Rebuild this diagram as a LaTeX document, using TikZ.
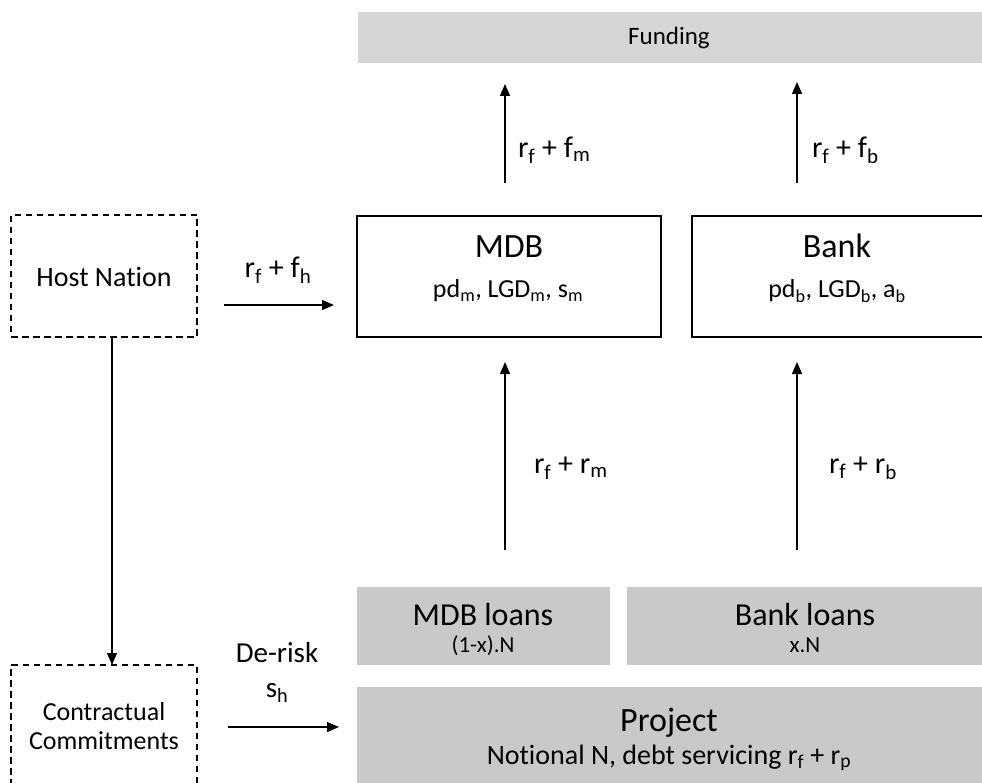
\documentclass[tikz,border=0pt]{standalone}
\usepackage{fontspec}
\setmainfont{Carlito}[Ligatures=CommonOff]
\usetikzlibrary{arrows.meta,calc}

\definecolor{fundgray}{RGB}{214,214,214}
\definecolor{loangray}{RGB}{201,201,201}

\newcommand{\sbs}[1]{\textsubscript{#1}}
\newcommand{\fsz}[1]{\fontsize{#1}{#1}\selectfont}

\begin{document}
\begin{tikzpicture}[x=1pt,y=-1pt,
  every node/.style={inner sep=0pt,outer sep=0pt},
  framebox/.style={draw=black,line width=1.4pt,fill=white,anchor=north west},
  dashbox/.style={draw=black,line width=1.2pt,dash pattern=on 6.5pt off 4.5pt,anchor=north west},
  fundbox/.style={fill=fundgray,anchor=north west},
  loanbox/.style={fill=loangray,anchor=north west},
  arr/.style={line width=1.3pt,-{Triangle[length=12pt,width=10pt]}},
  titletext/.style={anchor=base,font=\fsz{34}},
  subtext/.style={anchor=base,font=\fsz{26}},
  flowlabel/.style={anchor=west,font=\fsz{30}},
]
\useasboundingbox (0,0) rectangle (982,783);

% --- boxes ---
\node[fundbox,minimum width=630pt,minimum height=51pt] (fund) at (358,12) {};
\node[font=\fsz{25}] (fundT) at (669,38) {Funding};

\node[framebox,minimum width=304pt,minimum height=121pt] (mdb) at (357,216) {};
\node[titletext] (mdbT) at (509,258) {MDB};
\node[subtext] (mdbS) at (508,298) {pd\sbs{m}, LGD\sbs{m}, s\sbs{m}};

\node[framebox,minimum width=300pt,minimum height=121pt] (bank) at (692,216) {};
\node[titletext] (bankT) at (837,258) {Bank};
\node[subtext] (bankS) at (837,298) {pd\sbs{b}, LGD\sbs{b}, a\sbs{b}};

\node[dashbox,minimum width=186pt,minimum height=122pt] (host) at (11,215) {};
\node[font=\fsz{28}] (hostT) at (104,277) {Host Nation};

\node[dashbox,minimum width=186pt,minimum height=130pt] (cc) at (11,665) {};
\node[font=\fontsize{26}{29}\selectfont,align=center] (ccT) at (104,726) {Contractual\\Commitments};

\node[loanbox,minimum width=253pt,minimum height=78pt] (mloan) at (357,587) {};
\node[titletext,font=\fsz{32}] (mloanT) at (483,625) {MDB loans};
\node[subtext,font=\fsz{23}] (mloanS) at (483,652) {(1-x).N};

\node[loanbox,minimum width=360pt,minimum height=78pt] (bloan) at (627,587) {};
\node[titletext,font=\fsz{32}] (bloanT) at (805,625) {Bank loans};
\node[subtext,font=\fsz{23}] (bloanS) at (805,652) {x.N};

\node[loanbox,minimum width=630pt,minimum height=110pt] (proj) at (357,687) {};
\node[titletext] (projT) at (669,731) {Project};
\node[subtext,font=\fsz{28}] (projS) at (669,764) {Notional N, debt servicing r\sbs{f} + r\sbs{p}};

% --- connector ends ---
\coordinate (mUpA) at (505,183);  \coordinate (mUpB) at (505,84);
\coordinate (bUpA) at (797,183);  \coordinate (bUpB) at (797,82);
\coordinate (mLoA) at (505,550);  \coordinate (mLoB) at (505,362);
\coordinate (bLoA) at (797,550);  \coordinate (bLoB) at (797,362);
\coordinate (hA) at (224,305);    \coordinate (hB) at (334,305);
\coordinate (dA) at (228,727);    \coordinate (dB) at (339,727);
\coordinate (vx) at (112,0);

% --- connectors ---
\draw[arr] (mUpA) -- (mUpB);
\draw[arr] (bUpA) -- (bUpB);
\draw[arr] (mLoA) -- (mLoB);
\draw[arr] (bLoA) -- (bLoB);
\draw[arr] (hA) -- (hB);
\draw[arr] (dA) -- (dB);
\draw[arr] (host.south -| vx) -- (cc.north -| vx);

% --- connector labels ---
\node[flowlabel] (lfm) at (518,150) {r\sbs{f} + f\sbs{m}};
\node[flowlabel] (lfb) at (812,150) {r\sbs{f} + f\sbs{b}};
\node[flowlabel] (lrm) at (534,468) {r\sbs{f} + r\sbs{m}};
\node[flowlabel] (lrb) at (829,468) {r\sbs{f} + r\sbs{b}};
\node[font=\fsz{30}] (lfh) at (278,270) {r\sbs{f} + f\sbs{h}};
\node[font=\fsz{29}] (lder) at (277,653) {De-risk};
\node[font=\fsz{29}] (lsh) at (277,693) {s\sbs{h}};

\end{tikzpicture}
\end{document}
